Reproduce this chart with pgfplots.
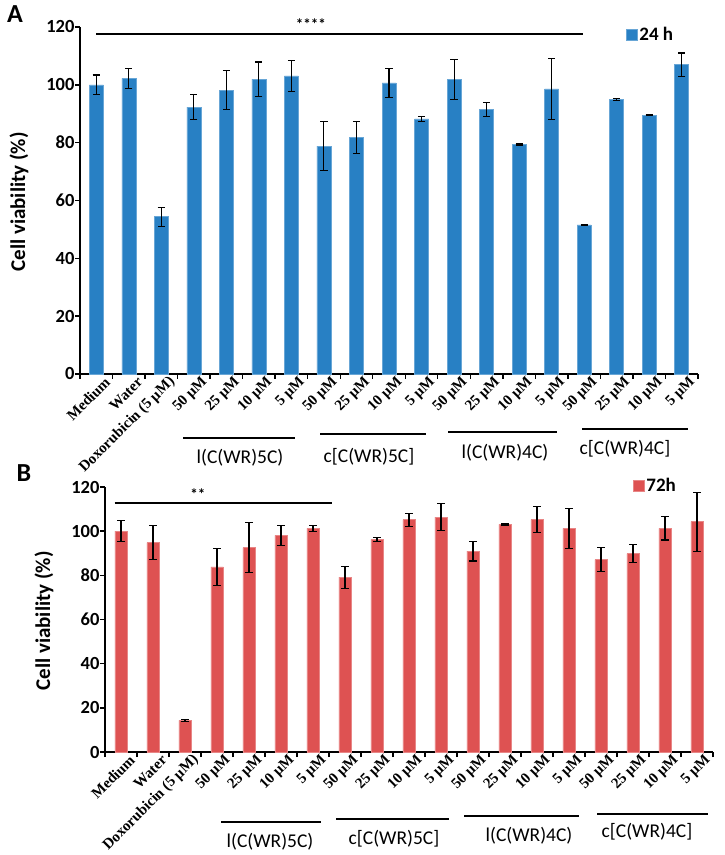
\documentclass[border=0pt]{standalone}
\usepackage{pgfplots}
\pgfplotsset{compat=1.18}
\usepackage{pgfplotstable}
\usepackage{fontspec}
\setmainfont{Carlito}
\newfontfamily\tms{Liberation Serif}
\definecolor{barA}{RGB}{40,128,196}
\definecolor{barB}{RGB}{222,82,82}

\pgfplotstableread{
x y e
0 100.0 3.4
1 102.2 3.4
2 54.4 3.3
3 92.3 4.3
4 98.2 6.7
5 102.0 5.9
6 103.1 5.4
7 78.8 8.4
8 81.7 5.5
9 100.7 5.1
10 88.2 0.8
11 101.9 6.9
12 91.4 2.4
13 79.4 0.2
14 98.6 10.5
15 51.6 0.2
16 94.9 0.4
17 89.5 0.2
18 107.0 4.0
}\dataA

\pgfplotstableread{
x y e
0 100.0 4.7
1 94.8 7.6
2 14.3 0.3
3 83.8 8.5
4 92.5 11.4
5 98.1 4.6
6 101.3 1.3
7 79.2 5.0
8 96.3 1.0
9 105.2 2.9
10 106.4 6.2
11 91.0 4.5
12 103.1 0.3
13 105.2 5.9
14 101.3 9.1
15 87.1 5.5
16 89.8 4.1
17 101.3 5.3
18 104.3 13.4
}\dataB

\pgfplotsset{
  vstyle/.style={
    scale only axis, ybar, clip=false,
    xmin=-0.5, xmax=18.5, ymin=0, ymax=120,
    axis x line*=bottom, axis y line*=left,
    axis line style={line width=1.6pt, black},
    xtick={-0.5,0.5,...,18.5}, xticklabels={},
    extra x ticks={0,...,18},
    extra x tick labels={Medium,Water,Doxorubicin (5 µM),50 µM,25 µM,10 µM,5 µM,50 µM,25 µM,10 µM,5 µM,50 µM,25 µM,10 µM,5 µM,50 µM,25 µM,10 µM,5 µM},
    extra x tick style={major tick length=0pt},
    xticklabel style={rotate=45, anchor=east, inner sep=0pt, xshift=4pt, yshift=-12pt,
      font=\tms\bfseries\fontsize{15}{15}\selectfont},
    ytick={0,20,...,120},
    tick align=outside, major tick length=5pt,
    tick style={line width=1.4pt, black},
    /pgf/number format/assume math mode=true,
    yticklabel style={font=\bfseries\fontsize{18.5}{18.5}\selectfont, xshift=3pt},
    error bars/error bar style={line width=1.1pt, black},
    error bars/error mark options={rotate=90, mark size=3.6pt, line width=1.1pt, black},
    legend image code/.code={\fill[#1] (0pt,-5.5pt) rectangle (11pt,5.5pt);},
    legend style={draw=none, fill=none, inner sep=0pt, anchor=west,
      font=\bfseries\fontsize{19}{19}\selectfont},
  }
}

\begin{document}
\begin{tikzpicture}
\useasboundingbox (0,0) rectangle (725pt,855pt);

% Panel A
\begin{axis}[vstyle, at={(80pt,481pt)}, anchor=south west,
  width=618pt, height=347pt, bar width=14pt,
  legend style={at={(0.883,0.977)}}]
\addplot[fill=barA, draw=barA!70!white, line width=0.5pt,
  error bars/.cd, y dir=both, y explicit]
  table[x=x, y=y, y error=e]{\dataA};
\addlegendentry{24 h}
\draw[line width=2pt] (axis cs:0,117.6) -- (axis cs:14.95,117.6);
\node[font=\bfseries\fontsize{15}{15}\selectfont] at (axis cs:6.6,120.9) {****};
\end{axis}

% Panel B
\begin{axis}[vstyle, at={(105pt,103pt)}, anchor=south west,
  width=608pt, height=265pt, bar width=12.5pt,
  legend style={at={(0.868,1.004)}}]
\addplot[fill=barB, draw=barB!70!white, line width=0.5pt,
  error bars/.cd, y dir=both, y explicit]
  table[x=x, y=y, y error=e]{\dataB};
\addlegendentry{72h}
\draw[line width=2pt] (axis cs:-0.2,112.8) -- (axis cs:6.6,112.8);
\node[font=\bfseries\fontsize{15}{15}\selectfont] at (axis cs:2.4,116.6) {**};
\end{axis}

% axis titles and panel letters
\node[rotate=90, font=\bfseries\fontsize{21}{21}\selectfont] at (19pt,653pt) {Cell viability (\%)};
\node[rotate=90, font=\bfseries\fontsize{21}{21}\selectfont] at (44pt,234pt) {Cell viability (\%)};
\node[font=\bfseries\fontsize{26}{26}\selectfont] at (15pt,841pt) {A};
\node[font=\bfseries\fontsize{26}{26}\selectfont] at (24pt,382pt) {B};

% group brackets
\begin{scope}[line width=2.6pt]
\draw (183pt,417pt) -- (295pt,417pt);
\draw (320pt,421pt) -- (426pt,421pt);
\draw (448pt,423pt) -- (557pt,423pt);
\draw (582pt,426pt) -- (688pt,426pt);
\draw (221pt,33pt) -- (321pt,33pt);
\draw (336pt,36pt) -- (449pt,36pt);
\draw (464pt,39pt) -- (579pt,39pt);
\draw (597pt,41pt) -- (708pt,41pt);
\end{scope}
\begin{scope}[every node/.style={font=\fontsize{19.5}{19.5}\selectfont}]
\node at (240pt,397pt) {l(C(WR)5C)};
\node at (369pt,398pt) {c[C(WR)5C]};
\node at (505pt,402pt) {l(C(WR)4C)};
\node at (625pt,406pt) {c[C(WR)4C]};
\node at (270pt,13pt) {l(C(WR)5C)};
\node at (394pt,16pt) {c[C(WR)5C]};
\node at (529pt,19pt) {l(C(WR)4C)};
\node at (647pt,23pt) {c[C(WR)4C]};
\end{scope}
\end{tikzpicture}
\end{document}
